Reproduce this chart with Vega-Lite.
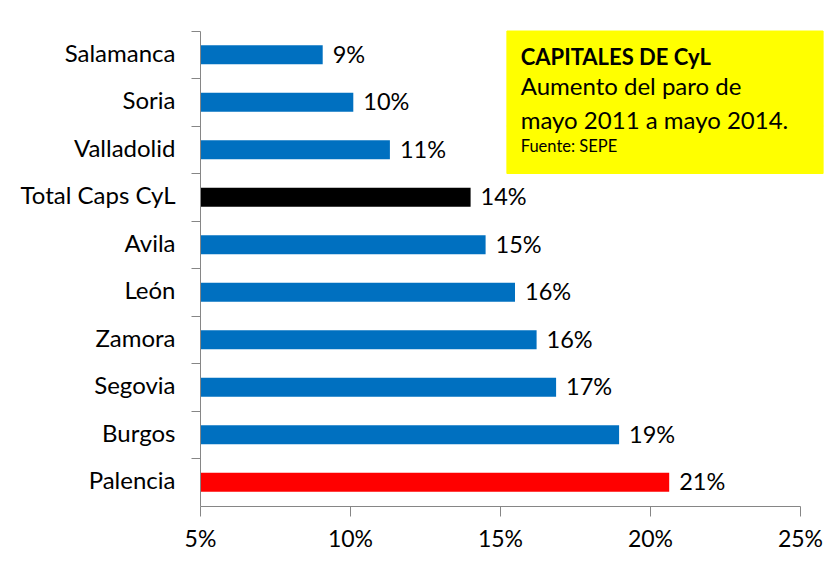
{
  "$schema": "https://vega.github.io/schema/vega-lite/v6.json",
  "width": 600,
  "height": 475,
  "autosize": "none",
  "padding": {"left": 200, "top": 31, "right": 31, "bottom": 57},
  "background": "white",
  "config": {"view": {"stroke": null}, "font": "Lato"},
  "datasets": {
    "main": [
      {"name": "Salamanca", "value": 0.0909, "group": "capital"},
      {"name": "Soria", "value": 0.1011, "group": "capital"},
      {"name": "Valladolid", "value": 0.1133, "group": "capital"},
      {"name": "Total Caps CyL", "value": 0.1402, "group": "total"},
      {"name": "Avila", "value": 0.1452, "group": "capital"},
      {"name": "León", "value": 0.155, "group": "capital"},
      {"name": "Zamora", "value": 0.1622, "group": "capital"},
      {"name": "Segovia", "value": 0.1687, "group": "capital"},
      {"name": "Burgos", "value": 0.1897, "group": "capital"},
      {"name": "Palencia", "value": 0.2064, "group": "max"}
    ],
    "box": [{"name": "Salamanca"}, {"name": "Soria"}, {"name": "Valladolid"}]
  },
  "layer": [
    {
      "data": {"name": "box"},
      "mark": {"type": "rect", "color": "#FFFF00", "stroke": "#FFFF00", "strokeWidth": 1},
      "encoding": {
        "y": {"field": "name", "type": "nominal", "sort": null,
          "scale": {"domain": ["Salamanca","Soria","Valladolid","Total Caps CyL","Avila","León","Zamora","Segovia","Burgos","Palencia"], "paddingInner": 0, "paddingOuter": 0}},
        "x": {"datum": 0.1523, "type": "quantitative"},
        "x2": {"datum": 0.2577}
      }
    },
    {
      "data": {"name": "main"},
      "mark": {"type": "bar", "height": {"band": 0.4}},
      "encoding": {
        "y": {"field": "name", "type": "nominal", "sort": null,
          "axis": {"title": null, "bandPosition": 0, "tickSize": 9, "labelPadding": 16, "labelFontSize": 24, "labelColor": "#000000", "domainColor": "#868686", "tickColor": "#868686", "labelFont": "Lato", "grid": false}},
        "x": {"field": "value", "type": "quantitative",
          "scale": {"domain": [0.05, 0.25], "zero": false, "nice": false},
          "axis": {"title": null, "values": [0.05, 0.1, 0.15, 0.2, 0.25], "format": ".0%", "tickSize": 10, "labelPadding": 12, "labelFontSize": 23, "labelFlush": false, "labelOverlap": false, "labelColor": "#000000", "domainColor": "#868686", "tickColor": "#868686", "grid": false, "labelFont": "Lato"}},
        "x2": {"datum": 0.05},
        "color": {"field": "group", "type": "nominal", "legend": null,
          "scale": {"domain": ["capital", "total", "max"], "range": ["#0070C0", "#000000", "#FF0000"]}}
      }
    },
    {
      "data": {"name": "main"},
      "mark": {"type": "text", "align": "left", "baseline": "middle", "dx": 10, "dy": 1, "fontSize": 23.5, "color": "#000000"},
      "encoding": {
        "y": {"field": "name", "type": "nominal", "sort": null},
        "x": {"field": "value", "type": "quantitative"},
        "text": {"field": "value", "type": "quantitative", "format": ".0%"}
      }
    },
    {
      "data": {"values": [{"t": "CAPITALES DE CyL"}]},
      "mark": {"type": "text", "align": "left", "baseline": "middle", "fontSize": 22, "fontWeight": "bold", "color": "#000000", "dy": 3},
      "encoding": {
        "y": {"datum": "Salamanca", "type": "nominal"},
        "x": {"datum": 0.1569, "type": "quantitative"},
        "text": {"field": "t"}
      }
    },
    {
      "data": {"values": [{"t": ["Aumento del paro de", "mayo 2011 a mayo 2014."]}]},
      "mark": {"type": "text", "align": "left", "baseline": "middle", "fontSize": 24, "lineHeight": 34, "color": "#000000", "dy": -14},
      "encoding": {
        "y": {"datum": "Soria", "type": "nominal"},
        "x": {"datum": 0.1569, "type": "quantitative"},
        "text": {"field": "t"}
      }
    },
    {
      "data": {"values": [{"t": "Fuente: SEPE"}]},
      "mark": {"type": "text", "align": "left", "baseline": "middle", "fontSize": 16.5, "color": "#000000", "dy": -3},
      "encoding": {
        "y": {"datum": "Valladolid", "type": "nominal"},
        "x": {"datum": 0.1569, "type": "quantitative"},
        "text": {"field": "t"}
      }
    }
  ]
}
